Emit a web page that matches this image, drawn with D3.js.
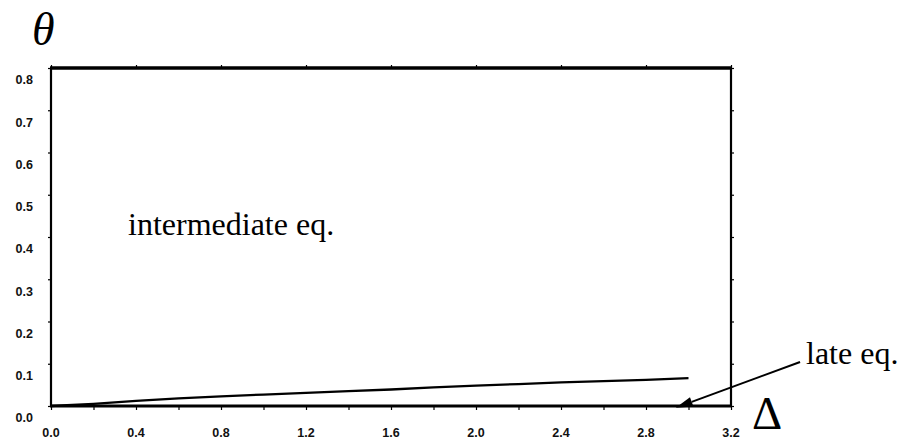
<!DOCTYPE html>
<html>
<head>
<meta charset="utf-8">
<script src="https://cdn.jsdelivr.net/npm/d3@7"></script>
<style>
  body { margin: 0; background: #fff; }
  svg { display: block; }
  .tick-label { font-family: "Liberation Sans", Arial, sans-serif; font-weight: bold; font-size: 12.5px; fill: #111; }
  .note { font-family: "Liberation Serif", "Times New Roman", serif; fill: #000; }
</style>
</head>
<body>
<svg width="906" height="445"></svg>
<script>
// curve theta(Delta)
var deltaVals = [0, 0.2, 0.4, 0.6, 0.8, 1.0, 1.2, 1.4, 1.6, 1.8, 2.0, 2.2, 2.4, 2.6, 2.8, 3.0];
var thetaVals = [0, 0.005, 0.012, 0.018, 0.023, 0.027, 0.031, 0.035, 0.039, 0.044, 0.048, 0.052, 0.056, 0.059, 0.062, 0.066];

var xTickLabels = [0, 0.4, 0.8, 1.2, 1.6, 2.0, 2.4, 2.8, 3.2];
var yTickLabels = [0, 0.1, 0.2, 0.3, 0.4, 0.5, 0.6, 0.7, 0.8];

var svg = d3.select("svg");

var x = d3.scaleLinear().domain([0, 3.2]).range([51, 731]);
var y = d3.scaleLinear().domain([0, 0.8]).range([406, 68]);

var fmt = d3.format(".1f");

// ticks, outward
svg.append("g")
    .attr("transform", "translate(0," + y(0) + ")")
    .call(d3.axisBottom(x).tickValues(d3.range(0, 3.21, 0.2)).tickSize(4).tickFormat(""))
    .call(function(g) { g.select(".domain").remove(); });

svg.append("g")
    .attr("transform", "translate(0," + y(0.8) + ")")
    .call(d3.axisTop(x).tickValues(xTickLabels).tickSize(3).tickFormat(""))
    .call(function(g) { g.select(".domain").remove(); });

svg.append("g")
    .attr("transform", "translate(" + x(0) + ",0)")
    .call(d3.axisLeft(y).tickValues(yTickLabels).tickSize(3).tickFormat(""))
    .call(function(g) { g.select(".domain").remove(); });

svg.append("g")
    .attr("transform", "translate(" + x(3.2) + ",0)")
    .call(d3.axisRight(y).tickValues(yTickLabels).tickSize(3).tickFormat(""))
    .call(function(g) { g.select(".domain").remove(); });

svg.selectAll(".tick line").attr("stroke", "#000").attr("stroke-width", 1.2);

// frame
svg.append("line").attr("x1", x(0) - 1).attr("x2", x(3.2) + 1).attr("y1", y(0)).attr("y2", y(0))
    .attr("stroke", "#000").attr("stroke-width", 3);
svg.append("line").attr("x1", x(0) - 1).attr("x2", x(3.2) + 1).attr("y1", y(0.8)).attr("y2", y(0.8))
    .attr("stroke", "#000").attr("stroke-width", 3.5);
svg.append("line").attr("x1", x(0)).attr("x2", x(0)).attr("y1", y(0.8)).attr("y2", y(0))
    .attr("stroke", "#000").attr("stroke-width", 2.2);
svg.append("line").attr("x1", x(3.2)).attr("x2", x(3.2)).attr("y1", y(0.8)).attr("y2", y(0))
    .attr("stroke", "#000").attr("stroke-width", 2.2);

// tick labels
svg.selectAll(".xlab")
    .data(xTickLabels)
    .enter().append("text")
    .attr("class", "tick-label")
    .attr("x", function(d) { return x(d); })
    .attr("y", y(0) + 27)
    .attr("dy", "0.35em")
    .attr("text-anchor", "middle")
    .text(fmt);

svg.selectAll(".ylab")
    .data(yTickLabels)
    .enter().append("text")
    .attr("class", "tick-label")
    .attr("x", 33)
    .attr("y", function(d) { return y(d) + 12; })
    .attr("dy", "0.35em")
    .attr("text-anchor", "end")
    .text(fmt);

// curve
var pts = deltaVals.map(function(d, i) { return [d, thetaVals[i]]; });
svg.append("path")
    .datum(pts)
    .attr("fill", "none")
    .attr("stroke", "#000")
    .attr("stroke-width", 2.3)
    .attr("d", d3.line()
        .x(function(d) { return x(d[0]); })
        .y(function(d) { return y(d[1]); }));

// annotations
svg.append("text").attr("class", "note")
    .attr("x", 128).attr("y", 235)
    .style("font-size", "32px")
    .text("intermediate eq.");

svg.append("text").attr("class", "note")
    .attr("x", 806).attr("y", 364)
    .style("font-size", "32px")
    .text("late eq.");

svg.append("text").attr("class", "note")
    .attr("x", 752).attr("y", 429)
    .style("font-size", "47px")
    .text("\u0394");

svg.append("text").attr("class", "note")
    .attr("x", 32).attr("y", 45)
    .style("font-size", "46px")
    .style("font-style", "italic")
    .text("\u03b8");

// arrow to the late equilibrium
var a0 = [x(3.525), y(0.104)], a1 = [x(2.94), y(-0.004)];
var dx = a1[0] - a0[0], dy = a1[1] - a0[1], len = Math.sqrt(dx * dx + dy * dy);
var ux = dx / len, uy = dy / len, hl = 17, hw = 5;
var base = [a1[0] - ux * hl, a1[1] - uy * hl];
svg.append("line")
    .attr("x1", a0[0]).attr("y1", a0[1]).attr("x2", base[0]).attr("y2", base[1])
    .attr("stroke", "#000").attr("stroke-width", 2);
svg.append("path")
    .attr("d", "M" + a1[0] + "," + a1[1] +
        "L" + (base[0] - uy * hw) + "," + (base[1] + ux * hw) +
        "L" + (base[0] + uy * hw) + "," + (base[1] - ux * hw) + "Z")
    .attr("fill", "#000");
</script>
</body>
</html>
